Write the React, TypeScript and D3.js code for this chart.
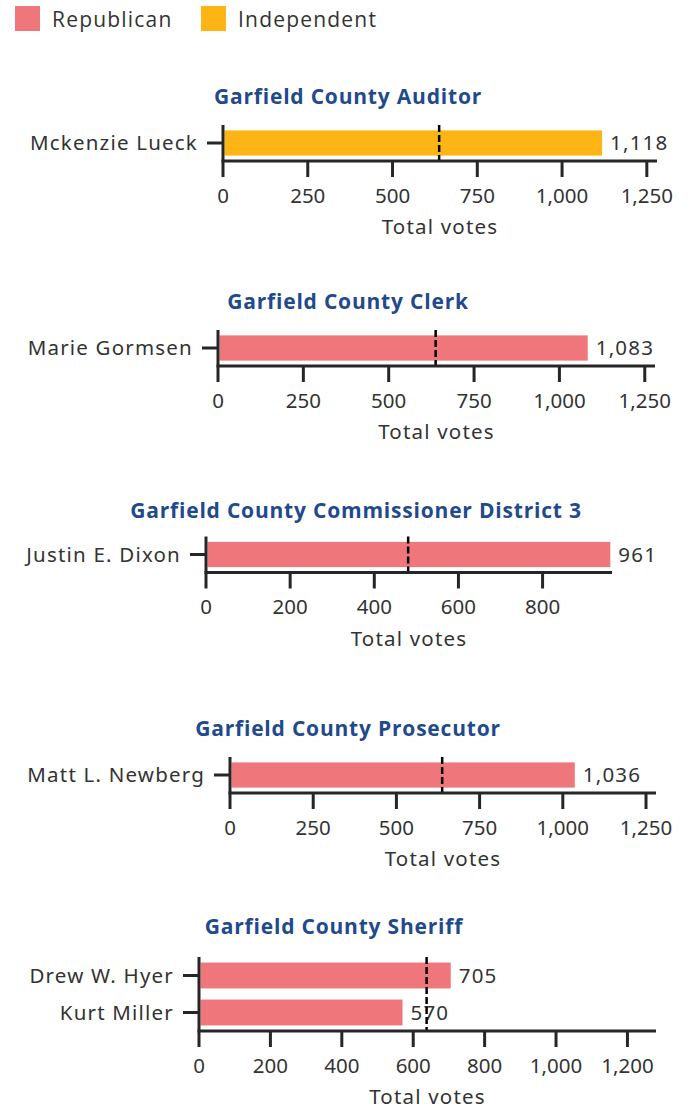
import React from "react";
import * as d3 from "d3";

// ---- data ----
const raceTitles = [
  "Garfield County Auditor",
  "Garfield County Clerk",
  "Garfield County Commissioner District 3",
  "Garfield County Prosecutor",
  "Garfield County Sheriff",
];
const candidates = [
  ["Mckenzie Lueck"],
  ["Marie Gormsen"],
  ["Justin E. Dixon"],
  ["Matt L. Newberg"],
  ["Drew W. Hyer", "Kurt Miller"],
];
const votes = [[1118], [1083], [961], [1036], [705, 570]];
const parties = [
  ["Independent"],
  ["Republican"],
  ["Republican"],
  ["Republican"],
  ["Republican", "Republican"],
];
const majorityLine = [637.5, 637.5, 480.5, 637.5, 637.5];
const domainMax = [1280, 1280, 965, 1280, 1280];
const xTicks = [
  [0, 250, 500, 750, 1000, 1250],
  [0, 250, 500, 750, 1000, 1250],
  [0, 200, 400, 600, 800],
  [0, 250, 500, 750, 1000, 1250],
  [0, 200, 400, 600, 800, 1000, 1200],
];
const legendParties = ["Republican", "Independent"];
const partyColors = ["#EF767A", "#FDB515"];

// ---- layout ----
const layout = [
  { x0: 223, x1: 657, top: 125, axisY: 161, titleX: 348, titleY: 104 },
  { x0: 218, x1: 655, top: 330, axisY: 366, titleX: 348, titleY: 309 },
  { x0: 206, x1: 612, top: 536.5, axisY: 572.5, titleX: 356, titleY: 518 },
  { x0: 230, x1: 656, top: 757, axisY: 793, titleX: 348, titleY: 736 },
  { x0: 199, x1: 656, top: 957, axisY: 1031, titleX: 334, titleY: 934 },
];

const AX = "#262626";
const TXT = "#333333";
const TITLE = "#1F4A8C";
const FONT = "'Noto Sans', sans-serif";
const TFONT = "'Open Sans', sans-serif";
const LS = 1.2;
const fmt = d3.format(",");
const color = d3.scaleOrdinal<string, string>().domain(legendParties).range(partyColors);

function Panel({ i }: { i: number }) {
  const L = layout[i];
  const x = d3.scaleLinear().domain([0, domainMax[i]]).range([L.x0, L.x1]);
  const y = d3
    .scaleBand<string>()
    .domain(candidates[i])
    .range([L.top, L.axisY])
    .paddingInner(0.3)
    .paddingOuter(0.15);
  return (
    <g>
      <text x={L.titleX} y={L.titleY} textAnchor="middle" fontFamily={TFONT} fontWeight={700} fontSize={21} letterSpacing={0.8} fill={TITLE}>
        {raceTitles[i]}
      </text>
      {candidates[i].map((c, j) => (
        <g key={c}>
          <rect x={x(0) + 1.5} y={y(c)!} width={x(votes[i][j]) - x(0) - 1.5} height={y.bandwidth()} fill={color(parties[i][j])} />
          <text x={x(votes[i][j]) + 8} y={y(c)! + y.bandwidth() / 2} dy="0.36em" fontFamily={FONT} fontSize={20.5} letterSpacing={LS} fill={TXT}>
            {fmt(votes[i][j])}
          </text>
          <line x1={L.x0 - 16} x2={L.x0} y1={y(c)! + y.bandwidth() / 2} y2={y(c)! + y.bandwidth() / 2} stroke={AX} strokeWidth={3} />
          <text x={L.x0 - 25} y={y(c)! + y.bandwidth() / 2} dy="0.36em" textAnchor="end" fontFamily={FONT} fontSize={20.5} letterSpacing={LS} fill={TXT}>
            {c}
          </text>
        </g>
      ))}
      <line x1={x(majorityLine[i])} x2={x(majorityLine[i])} y1={L.top} y2={L.axisY} stroke="#000" strokeWidth={2.5} strokeDasharray="7,3" />
      {/* axes */}
      <line x1={L.x0} x2={L.x0} y1={L.top} y2={L.axisY} stroke={AX} strokeWidth={3} />
      <line x1={L.x0 - 1.5} x2={L.x1} y1={L.axisY} y2={L.axisY} stroke={AX} strokeWidth={3} />
      {xTicks[i].map((t) => (
        <g key={t}>
          <line x1={x(t)} x2={x(t)} y1={L.axisY} y2={L.axisY + 16} stroke={AX} strokeWidth={3} />
          <text x={x(t)} y={L.axisY + 41.5} textAnchor="middle" fontFamily={FONT} fontSize={20.5} fill={TXT}>
            {fmt(t)}
          </text>
        </g>
      ))}
      <text x={(L.x0 + L.x1) / 2} y={L.axisY + 73} textAnchor="middle" fontFamily={FONT} fontSize={20.5} letterSpacing={LS} fill={TXT}>
        Total votes
      </text>
    </g>
  );
}

export default function App() {
  const legendX = [15, 201];
  return (
    <svg width={693} height={1110} style={{ display: "block", position: "absolute", left: 0, top: 0 }}>
      <rect width={693} height={1110} fill="#fff" />
      {legendParties.map((p, k) => (
        <g key={p}>
          <rect x={legendX[k]} y={6} width={25} height={25} fill={color(p)} />
          <text x={legendX[k] + 37} y={27} fontFamily={TFONT} fontSize={21} letterSpacing={1.2} fill={TXT}>
            {p}
          </text>
        </g>
      ))}
      {raceTitles.map((_, i) => (
        <Panel key={i} i={i} />
      ))}
    </svg>
  );
}
